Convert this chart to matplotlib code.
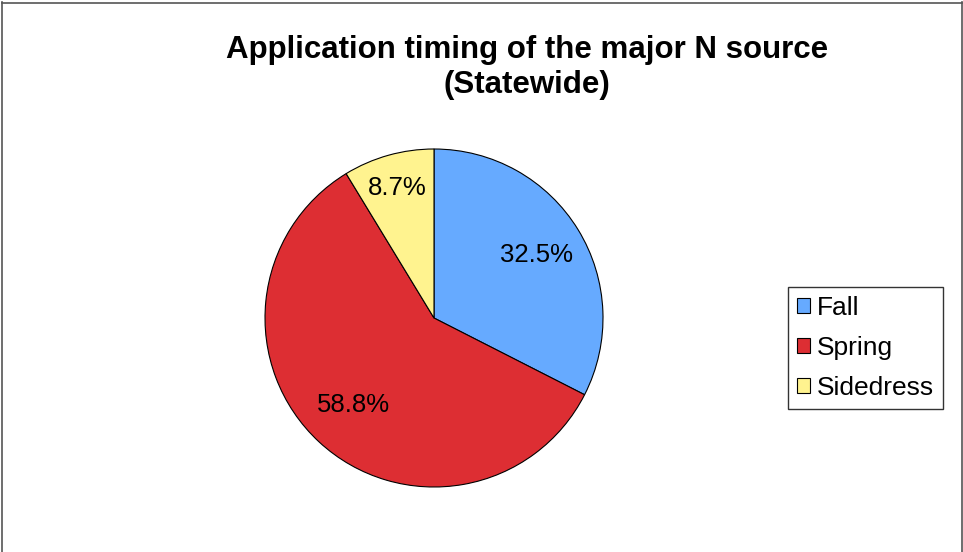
import matplotlib
matplotlib.use("Agg")
import matplotlib.pyplot as plt
import numpy as np
from matplotlib.patches import Patch
from matplotlib.lines import Line2D

categories = ["Fall", "Spring", "Sidedress"]
values = [32.5, 58.8, 8.7]
colors = ["#66aaff", "#dd2e33", "#fff38f"]
label_dist = [0.71, 0.70, 0.80]

plt.rcParams['font.family'] = ['Liberation Sans', 'DejaVu Sans']

fig = plt.figure(figsize=(9.63, 5.52), dpi=100)
ax = fig.add_axes([265/963, (552-487)/552, 338/963, 338/552])

wedges, _ = ax.pie(values, colors=colors, startangle=90, counterclock=False,
                   wedgeprops=dict(edgecolor="black", linewidth=0.8))
for w, v, d in zip(wedges, values, label_dist):
    ang = np.deg2rad((w.theta1 + w.theta2) / 2)
    ax.text(d * np.cos(ang), d * np.sin(ang), f"{v:.1f}%", ha="center", va="center",
            fontsize=18.5)
ax.set_xlim(-1, 1)
ax.set_ylim(-1, 1)
ax.set_aspect("equal")

fig.text(527/963, 1 - 67.5/552, "Application timing of the major N source\n(Statewide)",
         ha="center", va="center", fontsize=22.5, fontweight="bold", linespacing=1.2)

handles = [Patch(facecolor=c, edgecolor="black", linewidth=0.8) for c in colors]
leg = fig.legend(handles, categories, loc="center", bbox_to_anchor=(865.5/963, 1 - 348/552),
                 fontsize=19, frameon=True, fancybox=False, edgecolor="black",
                 handlelength=0.5, handleheight=0.5, handletextpad=0.25,
                 labelspacing=0.6, borderpad=0.35, borderaxespad=0)
leg.get_frame().set_linewidth(1.0)

# outer frame (top, left, right)
fc = "#555555"
fig.add_artist(Line2D([1.5/963, 1.5/963], [0, 1 - 2/552], color=fc, lw=1.2, transform=fig.transFigure))
fig.add_artist(Line2D([961.5/963, 961.5/963], [0, 1 - 2/552], color=fc, lw=1.2, transform=fig.transFigure))
fig.add_artist(Line2D([1.5/963, 961.5/963], [1 - 2.5/552, 1 - 2.5/552], color=fc, lw=1.2, transform=fig.transFigure))

fig.savefig("out.png", dpi=100)
